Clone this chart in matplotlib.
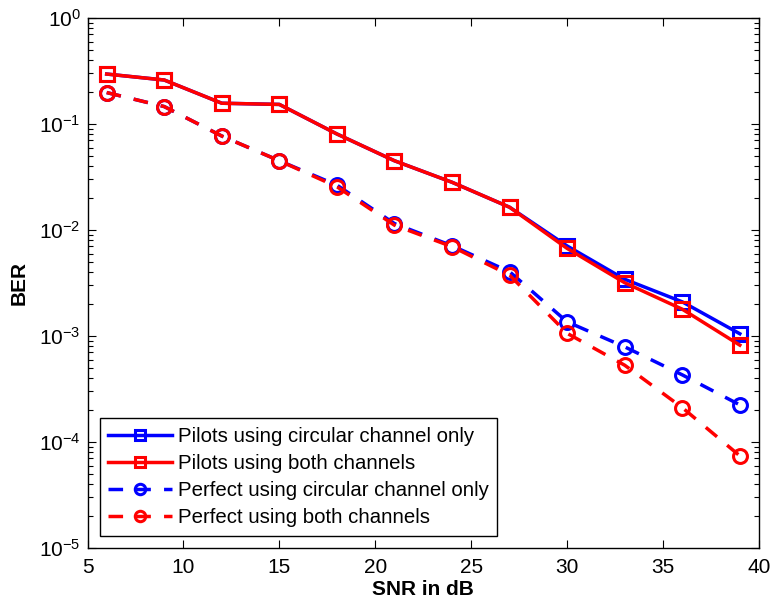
import matplotlib
matplotlib.use("Agg")
import matplotlib.pyplot as plt
from matplotlib.ticker import LogLocator, NullFormatter, FixedLocator

plt.rcParams['font.family'] = ['Liberation Sans', 'DejaVu Sans']
plt.rcParams['mathtext.default'] = 'regular'

snr = [6, 9, 12, 15, 18, 21, 24, 27, 30, 33, 36, 39]
pilots_circular = [0.296, 0.26, 0.157, 0.153, 0.0805, 0.045, 0.0282, 0.0164,
                   0.00707, 0.00343, 0.0021, 0.00105]
pilots_both = [0.296, 0.26, 0.157, 0.153, 0.0805, 0.045, 0.0282, 0.0164,
               0.0067, 0.00318, 0.00179, 0.00082]
perfect_circular = [0.198, 0.146, 0.077, 0.045, 0.0265, 0.0115, 0.0071, 0.00404,
                    0.00136, 0.00079, 0.00043, 0.000224]
perfect_both = [0.198, 0.146, 0.077, 0.045, 0.0256, 0.0111, 0.00696, 0.00375,
                0.00106, 0.00053, 0.000211, 7.4e-5]

labels = ["Pilots using circular channel only",
          "Pilots using both channels",
          "Perfect using circular channel only",
          "Perfect using both channels"]

x_ticks = [5, 10, 15, 20, 25, 30, 35, 40]
y_ticks = [1e-5, 1e-4, 1e-3, 1e-2, 1e-1, 1e0]
y_tick_labels = ['$10^{-5}$', '$10^{-4}$', '$10^{-3}$', '$10^{-2}$', '$10^{-1}$', '$10^{0}$']

fig = plt.figure(figsize=(7.73, 6.06), dpi=100)
ax = fig.add_axes([0.1132, 0.0957, 0.8687, 0.8746])

lw = 2.5
common = dict(linewidth=lw, markersize=10, markeredgewidth=2.2, markerfacecolor='none')
dash = (4.2, 3.8)

ax.semilogy(snr, pilots_circular, color='#0000ff', marker='s', linestyle='-',
            markeredgecolor='#0000ff', label=labels[0], **common)
ax.semilogy(snr, pilots_both, color='#ff0000', marker='s', linestyle='-',
            markeredgecolor='#ff0000', label=labels[1], **common)
l3, = ax.semilogy(snr, perfect_circular, color='#0000ff', marker='o',
                  markeredgecolor='#0000ff', label=labels[2], **common)
l3.set_dashes(dash)
l4, = ax.semilogy(snr, perfect_both, color='#ff0000', marker='o',
                  markeredgecolor='#ff0000', label=labels[3], **common)
l4.set_dashes(dash)

ax.set_xlim(5, 40)
ax.set_ylim(1e-5, 1e0)
ax.xaxis.set_major_locator(FixedLocator(x_ticks))
ax.set_yticks(y_ticks)
ax.set_yticklabels(y_tick_labels)
ax.yaxis.set_minor_locator(LogLocator(base=10, subs=range(2, 10), numticks=20))
ax.yaxis.set_minor_formatter(NullFormatter())

ax.tick_params(which='both', direction='in', top=True, right=True,
               labelsize=15, width=0.8, colors='black')
ax.tick_params(which='major', length=6)
ax.tick_params(axis='y', which='major', pad=5)
ax.tick_params(axis='x', which='major', pad=7)
ax.tick_params(which='minor', length=3.5)
for s in ax.spines.values():
    s.set_linewidth(1.0)

ax.set_xlabel('SNR in dB', fontsize=15, fontweight='bold', labelpad=2)
ax.set_ylabel('BER', fontsize=15, fontweight='bold')
ax.yaxis.set_label_coords(-0.087, 0.5)

leg = ax.legend(loc='lower left', fontsize=14.7, numpoints=1, handlelength=3.1,
                handletextpad=0.3, borderaxespad=0.6, labelspacing=0.4,
                fancybox=False, framealpha=1, edgecolor='black',
                borderpad=0.42, markerscale=0.75)
leg.get_frame().set_linewidth(1.0)

fig.savefig('out.png', dpi=100)
